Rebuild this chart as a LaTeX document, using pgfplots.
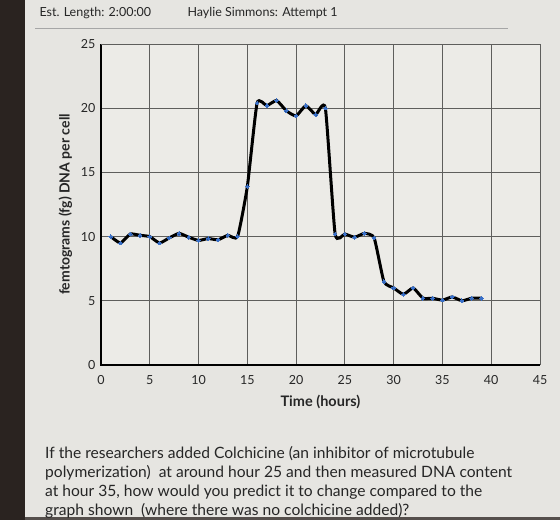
\documentclass[border=0pt]{standalone}
\usepackage{pgfplots}
\pgfplotsset{compat=1.18}
\usepackage{fontspec}
\setmainfont{Lato}
\definecolor{bg}{HTML}{E6E5E1}
\definecolor{plotbg}{HTML}{ECEBE7}
\definecolor{dark}{HTML}{2A2320}
\definecolor{gridc}{HTML}{5E5E5C}
\definecolor{mk}{HTML}{3A70C8}
\definecolor{txt}{HTML}{262626}
\begin{document}
\begin{tikzpicture}[x=1pt,y=1pt]
\path[use as bounding box] (0,0) rectangle (560,520);
\fill[bg] (0,0) rectangle (560,520);
\fill[dark] (0,0) rectangle (25,520);
\fill[dark!80] (25,0) rectangle (560,3);
% header
\node[anchor=base west,font=\fontsize{12.5}{14}\selectfont,text=txt] at (36,503) {Est. Length: 2:00:00};
\node[anchor=base west,font=\fontsize{12.5}{14}\selectfont,text=txt] at (184,503) {Haylie Simmons: Attempt 1};
\draw[gray!70,line width=0.8pt] (35,492) -- (508,492);
% question
\node[anchor=north west,align=left,font=\fontsize{15.6}{19}\selectfont,text=txt,inner sep=0pt] at (45,74) {If the researchers added Colchicine (an inhibitor of microtubule\\polymerization)\ \ at around hour 25 and then measured DNA content\\at hour 35, how would you predict it to change compared to the\\graph shown\ \ (where there was no colchicine added)?};
\begin{axis}[
  at={(101pt,155pt)}, anchor=south west,
  scale only axis, width=439pt, height=321pt,
  xmin=0, xmax=45, ymin=0, ymax=25,
  xtick={0,5,...,45}, ytick={0,5,...,25},
  grid=major,
  major grid style={gridc,line width=0.8pt},
  axis line style={draw=none},
  axis background/.style={fill=plotbg},
  tick style={draw=none},
  tick label style={font=\fontsize{12.5}{14}\selectfont,text=txt},
  /pgf/number format/assume math mode=true,
  xticklabel style={yshift=-7pt},
  yticklabel style={xshift=-2pt},
  xlabel={\bfseries Time (hours)},
  ylabel={\bfseries femtograms (fg) DNA per cell},
  xlabel style={font=\fontsize{14.5}{16}\selectfont,text=txt,yshift=-4pt},
  ylabel style={font=\fontsize{14}{16}\selectfont,text=txt,yshift=2pt},
  clip=false,
]
\draw[black,line width=1.8pt] (axis cs:0,25) -- (axis cs:0,0) -- (axis cs:45,0);
\draw[gridc,line width=0.8pt] (axis cs:0,25) -- (axis cs:45,25) -- (axis cs:45,0);
\addplot[black, line width=3pt, smooth, tension=0.3, mark=*, mark size=1.8pt,
  mark options={fill=mk, draw=mk, line width=0pt}] coordinates {
(1,10.0) (2,9.5) (3,10.2) (4,10.1) (5,10.0) (6,9.5) (7,9.9) (8,10.25) (9,9.95) (10,9.7)
(11,9.85) (12,9.75) (13,10.1) (14,10.0) (15,13.9) (16,20.4) (17,20.2) (18,20.6) (19,19.8)
(20,19.4) (21,20.2) (22,19.5) (23,20.0) (24,10.2) (25,10.2) (26,9.95) (27,10.25) (28,9.9)
(29,6.5) (30,6.0) (31,5.5) (32,6.0) (33,5.2) (34,5.2) (35,5.05) (36,5.3) (37,5.0) (38,5.2) (39,5.2)
};
\end{axis}
\end{tikzpicture}
\end{document}
